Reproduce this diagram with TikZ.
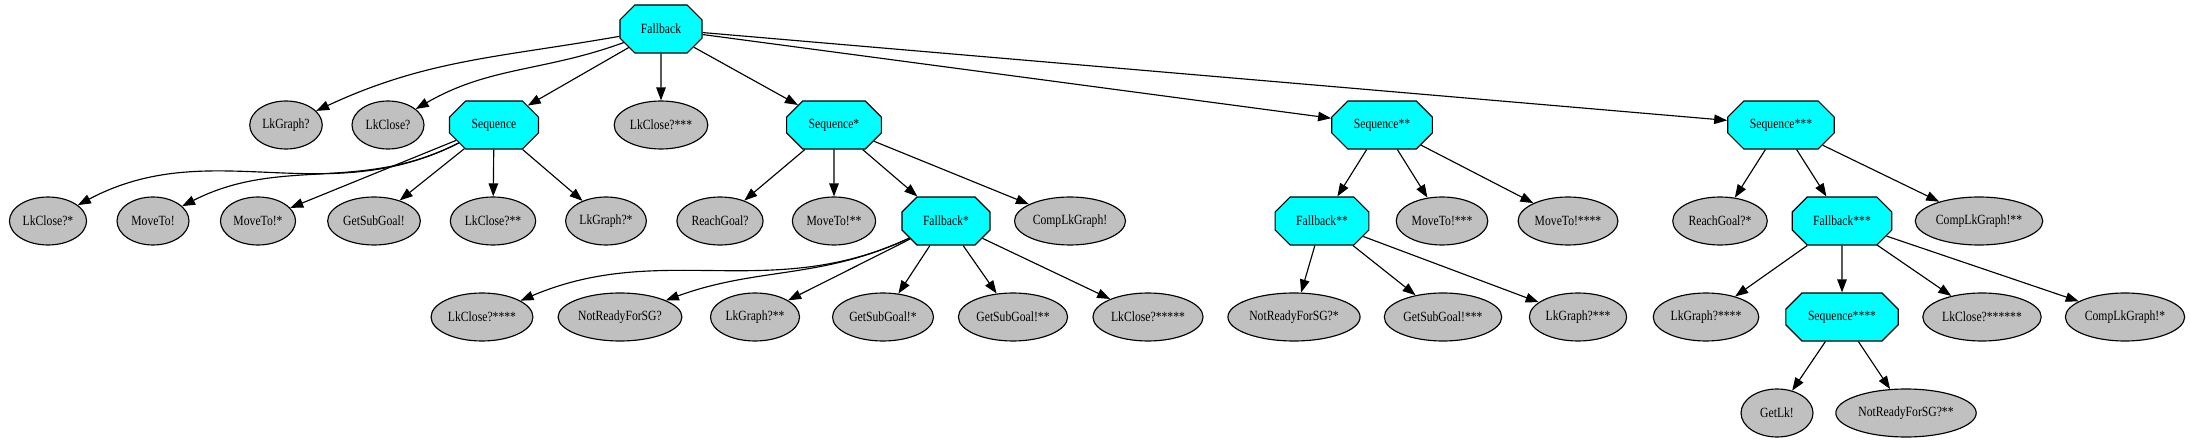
\documentclass[tikz,border=0pt]{standalone}
\usepackage{fontspec}
\setmainfont{Liberation Serif}[FakeStretch=0.83]
\usetikzlibrary{
  arrows.meta,
  shapes.geometric,
  shapes.misc
}
\definecolor{inkC}{HTML}{000000}
\definecolor{leafC}{HTML}{C0C0C0}
\definecolor{ctrlC}{HTML}{00FFFF}

\tikzset{
  lbl/.style={font=\fontsize{8pt}{9pt}\selectfont, text=inkC},
  leaf/.style={lbl, ellipse, draw=inkC, fill=leafC, line width=0.65pt,
    minimum width=1.44cm, minimum height=0.96cm, inner xsep=0.04cm, inner ysep=0pt},
  ctrl/.style={lbl, chamfered rectangle, chamfered rectangle sep=0.2cm,
    draw=inkC, fill=ctrlC, line width=0.65pt,
    minimum height=0.96cm, inner xsep=0.32cm, inner ysep=0pt},
  link/.style={draw=inkC, line width=0.65pt, -{Triangle[length=0.26cm, width=0.19cm]}}
}

\begin{document}
\begin{tikzpicture}[x=0.02cm, y=0.02cm]

\useasboundingbox (0,0) rectangle (2190,443);

% Root and first level.
\node[ctrl] (fb0) at (661,414) {Fallback};
\node[leaf] (lkg0) at (286,318) {LkGraph?};
\node[leaf] (lkc0) at (388,318) {LkClose?};
\node[ctrl] (seq0) at (494,318) {Sequence};
\node[leaf] (lkc3) at (661,318) {LkClose?***};
\node[ctrl] (seq1) at (834,318) {Sequence*};
\node[ctrl] (seq2) at (1382,318) {Sequence**};
\node[ctrl] (seq3) at (1781,318) {Sequence***};

% Second level.
\node[leaf] (lkc1) at (48,222) {LkClose?*};
\node[leaf] (mv0) at (153,222) {MoveTo!};
\node[leaf] (mv1) at (258,222) {MoveTo!*};
\node[leaf] (gsg0) at (374,222) {GetSubGoal!};
\node[leaf] (lkc2) at (493,222) {LkClose?**};
\node[leaf] (lkg1) at (606,222) {LkGraph?*};
\node[leaf] (rg0) at (720,222) {ReachGoal?};
\node[leaf] (mv2) at (834,222) {MoveTo!**};
\node[ctrl] (fb1) at (946,222) {Fallback*};
\node[leaf] (clg0) at (1070,222) {CompLkGraph!};
\node[ctrl] (fb2) at (1322,222) {Fallback**};
\node[leaf] (mv3) at (1442,222) {MoveTo!***};
\node[leaf] (mv4) at (1568,222) {MoveTo!****};
\node[leaf] (rg1) at (1720,222) {ReachGoal?*};
\node[ctrl] (fb3) at (1842,222) {Fallback***};
\node[leaf] (clg2) at (1979,222) {CompLkGraph!**};

% Third level.
\node[leaf] (lkc4) at (482,126) {LkClose?****};
\node[leaf] (nrs0) at (620,126) {NotReadyForSG?};
\node[leaf] (lkg2) at (755,126) {LkGraph?**};
\node[leaf] (gsg1) at (883,126) {GetSubGoal!*};
\node[leaf] (gsg2) at (1013,126) {GetSubGoal!**};
\node[leaf] (lkc5) at (1148,126) {LkClose?*****};
\node[leaf] (nrs1) at (1294,126) {NotReadyForSG?*};
\node[leaf] (gsg3) at (1443,126) {GetSubGoal!***};
\node[leaf] (lkg3) at (1578,126) {LkGraph?***};
\node[leaf] (lkg4) at (1706,126) {LkGraph?****};
\node[ctrl] (seq4) at (1842,126) {Sequence****};
\node[leaf] (lkc6) at (1982,126) {LkClose?******};
\node[leaf] (clg1) at (2125,126) {CompLkGraph!*};

% Fourth level.
\node[leaf] (glk) at (1777,30) {GetLk!};
\node[leaf] (nrs2) at (1906,30) {NotReadyForSG?**};

% Edges.
\draw[link] (fb0) to[out=190, in=25] (lkg0);
\draw[link] (fb0) to[out=200, in=30] (lkc0);
\foreach \c in {seq0,lkc3,seq1,seq2,seq3}{
  \draw[link] (fb0) -- (\c);
}
\draw[link] (seq0) to[out=207, in=28] (lkc1);
\draw[link] (seq0) to[out=207, in=27] (mv0);
\foreach \c in {mv1,gsg0,lkc2,lkg1}{
  \draw[link] (seq0) -- (\c);
}
\foreach \c in {rg0,mv2,fb1,clg0}{
  \draw[link] (seq1) -- (\c);
}
\draw[link] (fb1) to[out=205, in=23] (lkc4);
\draw[link] (fb1) to[out=205, in=20] (nrs0);
\foreach \c in {lkg2,gsg1,gsg2,lkc5}{
  \draw[link] (fb1) -- (\c);
}
\foreach \c in {fb2,mv3,mv4}{
  \draw[link] (seq2) -- (\c);
}
\foreach \c in {nrs1,gsg3,lkg3}{
  \draw[link] (fb2) -- (\c);
}
\foreach \c in {rg1,fb3,clg2}{
  \draw[link] (seq3) -- (\c);
}
\foreach \c in {lkg4,seq4,lkc6,clg1}{
  \draw[link] (fb3) -- (\c);
}
\foreach \c in {glk,nrs2}{
  \draw[link] (seq4) -- (\c);
}

\end{tikzpicture}
\end{document}
